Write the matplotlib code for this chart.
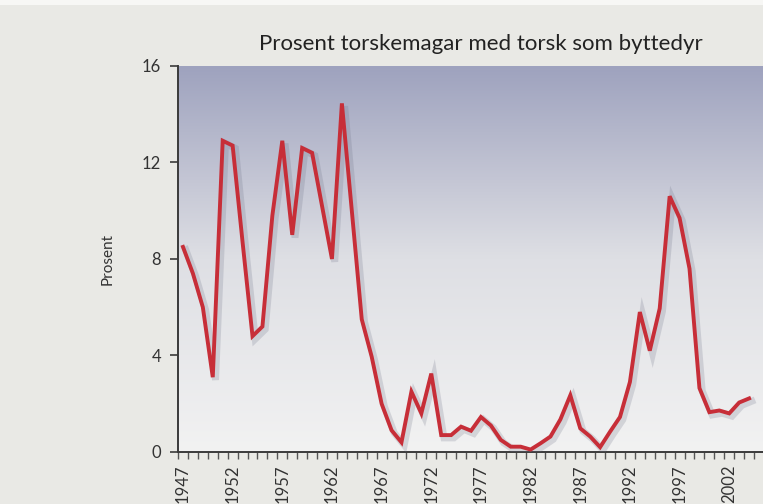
import numpy as np
import matplotlib.pyplot as plt
import matplotlib.patheffects as pe
from matplotlib.colors import LinearSegmentedColormap
from matplotlib.ticker import MultipleLocator
from matplotlib.patches import Rectangle

# andel torskemagar med torsk som byttedyr, 1947-2004
years = np.arange(1947, 2005)
prosent = [8.5, 7.4, 6.0, 3.1, 12.9, 12.7, 8.7, 4.8, 5.2, 9.8,
           12.9, 9.0, 12.6, 12.4, 10.2, 8.0, 14.45, 10.0, 5.5, 3.95,
           2.0, 0.9, 0.4, 2.5, 1.6, 3.25, 0.7, 0.7, 1.05, 0.88,
           1.45, 1.1, 0.5, 0.22, 0.22, 0.1, 0.36, 0.64, 1.35, 2.35,
           0.98, 0.64, 0.2, 0.84, 1.45, 2.9, 5.8, 4.2, 5.95, 10.6,
           9.7, 7.6, 2.65, 1.65, 1.72, 1.6, 2.05, 2.22]
tick_years = list(range(1947, 2003, 5))
y_ticks = [0, 4, 8, 12, 16]

tittel = "Prosent torskemagar med torsk som byttedyr"
y_tekst = "Prosent"

plt.rcParams['font.family'] = ['Lato', 'DejaVu Sans']

fig = plt.figure(figsize=(7.63, 5.04), dpi=100, facecolor='#e9e9e5')
# tynn lys stripe helt øverst
fig.patches.append(Rectangle((0, 0.99), 1, 0.01, transform=fig.transFigure,
                             facecolor='#f7f7f5', edgecolor='none'))

ax = fig.add_axes([0.2333, 0.1032, 0.7667, 0.7659])
ax.set_xlim(1946.5, 2005.4)
ax.set_ylim(0, 16)

# bakgrunn med fargeovergang
cmap = LinearSegmentedColormap.from_list('bg', ['#f2f2f2', '#dedfe4', '#9ea2be'])
grad = np.linspace(0, 1, 256).reshape(-1, 1)
ax.imshow(grad, cmap=cmap, aspect='auto', origin='lower',
          extent=[0, 1, 0, 1], transform=ax.transAxes, zorder=0)

ax.plot(years, prosent, color='#c72e38', linewidth=2.8, solid_joinstyle='miter',
        zorder=3,
        path_effects=[pe.SimpleLineShadow(offset=(2, -2), shadow_color='#6d7186',
                                          alpha=0.22, linewidth=5),
                      pe.Normal()])

for s in ['top', 'right']:
    ax.spines[s].set_visible(False)
for s in ['left', 'bottom']:
    ax.spines[s].set_color('#3a3a3a')
    ax.spines[s].set_linewidth(1.4)

ax.set_yticks(y_ticks)
ax.set_xticks(tick_years)
ax.set_xticklabels([str(y) for y in tick_years], rotation=90)
ax.xaxis.set_minor_locator(MultipleLocator(1, offset=0.5))
ax.tick_params(axis='x', which='major', length=0, pad=9, labelsize=12, labelcolor='#333333')
ax.tick_params(axis='x', which='minor', length=5, width=1, color='#555555', direction='out')
ax.tick_params(axis='y', length=6, width=1.2, color='#3a3a3a', pad=6,
               labelsize=12, labelcolor='#333333')

ax.set_ylabel(y_tekst, fontsize=11, color='#333333', labelpad=20)

fig.text(0.63, 0.913, tittel, ha='center', va='center', fontsize=16,
         fontweight='normal', color='#222222')

plt.savefig('out.png', dpi=100, facecolor=fig.get_facecolor())
